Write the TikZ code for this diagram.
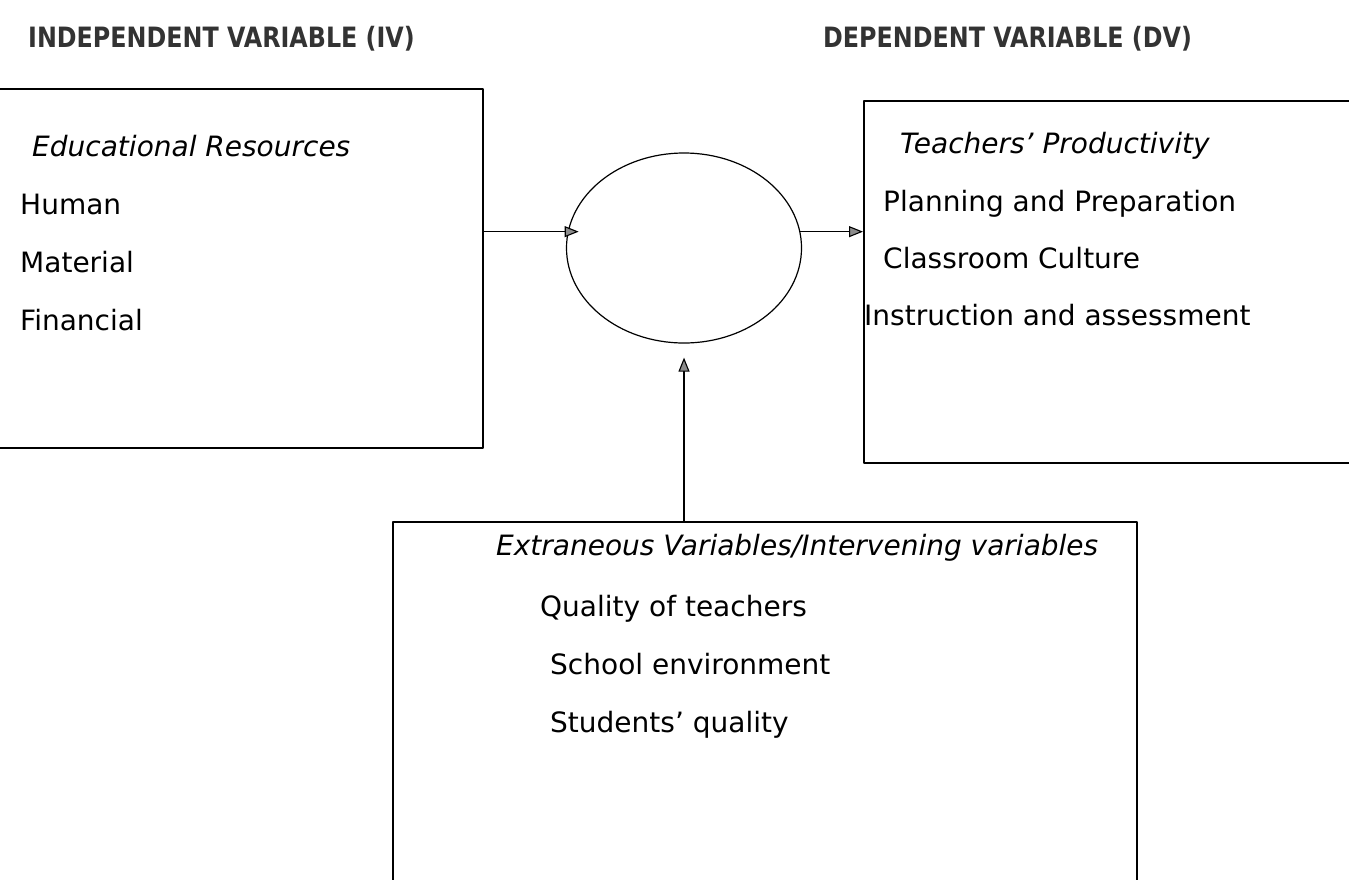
\documentclass[tikz,border=0pt]{standalone}
\usepackage{fontspec}
\setmainfont{DejaVu Sans}
\newfontfamily\headfont[FakeStretch=0.85]{DejaVu Sans}
\usetikzlibrary{arrows.meta,shapes.geometric}
\begin{document}
\begin{tikzpicture}[x=1pt, y=-1pt, line join=round, >={Triangle[length=14pt,width=11pt,fill=black!45]},
  every node/.style={font=\fontsize{28}{34}\selectfont},
  box/.style={draw, line width=1.5pt, inner sep=0pt, anchor=north west},
  head/.style={anchor=base west, inner sep=0pt, text=black!80, font=\headfont\fontsize{28}{34}\selectfont\bfseries},
  txt/.style={anchor=base west, inner sep=0pt}]
\clip (0,0) rectangle (1349,879);
\node[head] (ivh) at (28,47) {INDEPENDENT VARIABLE (IV)};
\node[head] (dvh) at (823,47) {DEPENDENT VARIABLE (DV)};
% boxes and the middle ellipse
\node[box, minimum width=487pt, minimum height=359pt] (iv) at (-5,88) {};
\node[box, minimum width=500pt, minimum height=362pt] (dv) at (863,100) {};
\node[box, minimum width=744pt, minimum height=400pt] (ev) at (392,521) {};
\node[draw, ellipse, line width=1.2pt, minimum width=235pt, minimum height=190pt, inner sep=0pt] (mid) at (684,248) {};
% texts
\node[txt] (ivt) at (32,156) {\itshape Educational Resources};
\foreach \t [count=\i] in {Human, Material, Financial}
  \node[txt] (iv\i) at (20,156+58*\i) {\t};
\node[txt] (dvt) at (900,153) {\itshape Teachers’ Productivity};
\foreach \x/\y/\t [count=\i] in {883/211/Planning and Preparation, 883/268/Classroom Culture, 864/325/Instruction and assessment}
  \node[txt] (dv\i) at (\x,\y) {\t};
\node[txt] (evt) at (496,555) {\itshape Extraneous Variables/Intervening variables};
\foreach \x/\y/\t [count=\i] in {540/616/Quality of teachers, 550/674/School environment, 550/732/Students’ quality}
  \node[txt] (ev\i) at (\x,\y) {\t};
% arrows
\draw[->, line width=1.1pt, shorten >=-11pt] (iv.east |- mid.172) -- (mid.172);
\draw[->, line width=1.1pt] (mid.8) -- (mid.8 -| dv.west);
\draw[->, line width=1.1pt, shorten >=14pt] (mid.south |- ev.north) -- (mid.south);
\end{tikzpicture}
\end{document}
